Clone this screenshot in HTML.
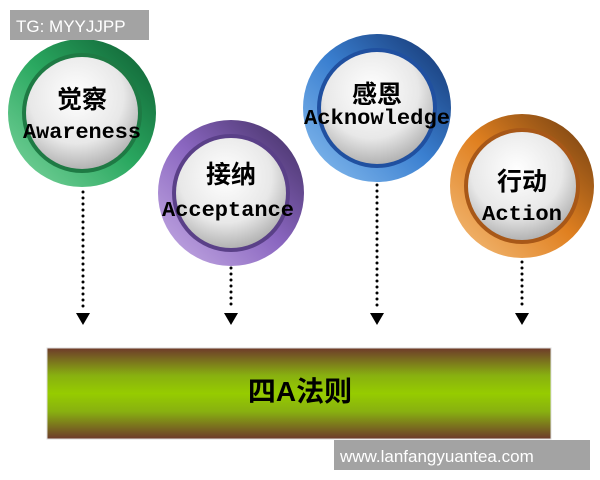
<!DOCTYPE html>
<html><head><meta charset="utf-8"><style>
body{margin:0;width:600px;height:480px;background:#fff;overflow:hidden;position:relative}
svg{position:absolute;left:0;top:0}
.t{font-family:"Liberation Sans","Noto Sans CJK SC",sans-serif}
</style></head><body>
<svg width="600" height="480" viewBox="0 0 600 480">
<defs>
<radialGradient id="w" cx="45%" cy="35%" r="70%"><stop offset="0" stop-color="#fff"/><stop offset="0.6" stop-color="#e8e8e8"/><stop offset="1" stop-color="#a8a8a8"/></radialGradient>
<linearGradient id="g1" x1="0" y1="1" x2="1" y2="0"><stop offset="0" stop-color="#7fd6a0"/><stop offset="0.5" stop-color="#2aa860"/><stop offset="1" stop-color="#0d5a30"/></linearGradient>
<linearGradient id="g2" x1="0" y1="1" x2="1" y2="0"><stop offset="0" stop-color="#c8b0e6"/><stop offset="0.5" stop-color="#8a66c0"/><stop offset="1" stop-color="#3e2c5e"/></linearGradient>
<linearGradient id="g3" x1="0" y1="1" x2="1" y2="0"><stop offset="0" stop-color="#8cc0f0"/><stop offset="0.5" stop-color="#3a7fd0"/><stop offset="1" stop-color="#12306a"/></linearGradient>
<linearGradient id="g4" x1="0" y1="1" x2="1" y2="0"><stop offset="0" stop-color="#f4c080"/><stop offset="0.5" stop-color="#e08020"/><stop offset="1" stop-color="#6a3a10"/></linearGradient>
<linearGradient id="bar" x1="0" y1="0" x2="0" y2="1"><stop offset="0" stop-color="#6e3a2a"/><stop offset="0.3" stop-color="#88b010"/><stop offset="0.5" stop-color="#96cc00"/><stop offset="0.7" stop-color="#88b010"/><stop offset="1" stop-color="#6e3a2a"/></linearGradient>
</defs>
<g stroke="#000" stroke-width="3" stroke-linecap="round" stroke-dasharray="0 6">
<line x1="83" y1="192" x2="83" y2="310"/><line x1="231" y1="268" x2="231" y2="310"/>
<line x1="377" y1="185" x2="377" y2="310"/><line x1="522" y1="262" x2="522" y2="310"/>
</g>
<g fill="#000"><path d="M76 313h14l-7 12z"/><path d="M224 313h14l-7 12z"/><path d="M370 313h14l-7 12z"/><path d="M515 313h14l-7 12z"/></g>
<g>
<circle cx="82" cy="113" r="74" fill="url(#g1)"/><circle cx="82" cy="113" r="60" fill="#1e7a44"/><circle cx="82" cy="113" r="56" fill="url(#w)"/>
<circle cx="231" cy="193" r="73" fill="url(#g2)"/><circle cx="231" cy="193" r="59" fill="#5a4088"/><circle cx="231" cy="193" r="55" fill="url(#w)"/>
<circle cx="377" cy="108" r="74" fill="url(#g3)"/><circle cx="377" cy="108" r="60" fill="#2050a0"/><circle cx="377" cy="108" r="56" fill="url(#w)"/>
<circle cx="522" cy="186" r="72" fill="url(#g4)"/><circle cx="522" cy="186" r="58" fill="#a85818"/><circle cx="522" cy="186" r="54" fill="url(#w)"/>
</g>
<g class="t" fill="#000" text-anchor="middle" font-size="25" font-weight="bold">
<text x="82" y="108">觉察</text><text x="82" y="138" font-family="Liberation Mono,monospace" font-size="21" textLength="118" lengthAdjust="spacingAndGlyphs">Awareness</text>
<text x="231" y="183">接纳</text><text x="228" y="216" font-family="Liberation Mono,monospace" font-size="21" textLength="132" lengthAdjust="spacingAndGlyphs">Acceptance</text>
<text x="377" y="103">感恩</text><text x="377" y="124" font-family="Liberation Mono,monospace" font-size="21" textLength="146" lengthAdjust="spacingAndGlyphs">Acknowledge</text>
<text x="522" y="190">行动</text><text x="522" y="220" font-family="Liberation Mono,monospace" font-size="21" textLength="80" lengthAdjust="spacingAndGlyphs">Action</text>
</g>
<rect x="47" y="348" width="504" height="91" fill="url(#bar)" stroke="#ddd"/>
<text class="t" x="300" y="401" text-anchor="middle" font-size="28" font-weight="bold" fill="#000">四A法则</text>
<rect x="10" y="10" width="139" height="30" fill="#a3a3a3"/>
<text class="t" x="16" y="32" font-size="17" fill="#fff">TG: MYYJJPP</text>
<rect x="334" y="440" width="256" height="30" fill="#a3a3a3"/>
<text class="t" x="340" y="462" font-size="17" fill="#fff">www.lanfangyuantea.com</text>
</svg>
</body></html>
